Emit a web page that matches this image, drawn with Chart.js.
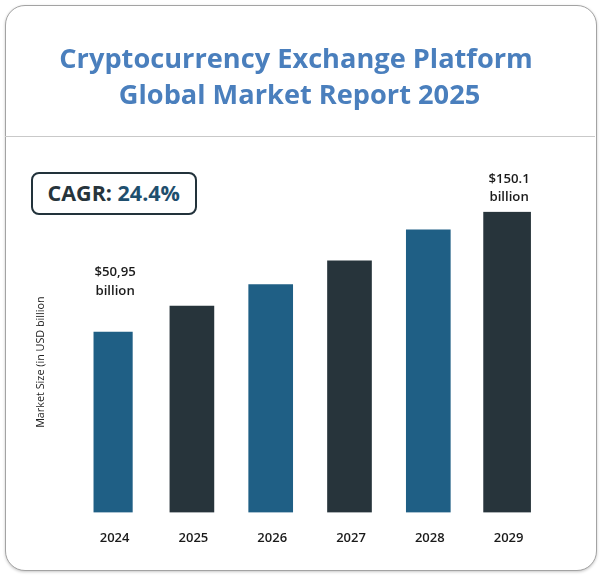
<!DOCTYPE html>
<html><head><meta charset="utf-8">
<script src="https://cdn.jsdelivr.net/npm/chart.js@4/dist/chart.umd.min.js"></script>
<style>
html,body{margin:0;padding:0;background:#fff;width:600px;height:586px;overflow:hidden;font-family:"Open Sans",sans-serif}
#card{position:absolute;left:4.5px;top:4.5px;width:590px;height:564px;border:1px solid #a3a3a3;border-radius:20px;box-shadow:0 1px 3px rgba(0,0,0,.22);background:#fff}
#rule{position:absolute;left:5px;top:136px;width:590px;height:1px;background:#c9c9c9}
#wrap{position:absolute;left:0;top:0;width:600px;height:586px}
#cagr{position:absolute;left:30.5px;top:172px;width:162.5px;height:38.5px;border:2.5px solid #22323b;border-radius:8px;text-align:center;line-height:38px;font-weight:700;font-size:21.5px;color:#27343b;background:#fff;white-space:nowrap}
#cagr span{color:#1f4f6e}
</style></head>
<body>
<div id="card"></div><div id="rule"></div>
<div id="wrap"><canvas id="c" width="600" height="586"></canvas></div>
<div id="cagr">CAGR: <span>24.4%</span></div>
<script>
const titleLines = ['Cryptocurrency Exchange Platform',' Global Market Report 2025'];
const axisTitle = 'Market Size (in USD billion';
const categories = ['2024','2025','2026','2027','2028','2029'];
const values = [50.95,72.35,90.05,109.8,135.3,150.1];
const valueLabels = [['$50,95','billion'],null,null,null,null,['$150.1','billion']];
const labelRise = [59.5,0,0,0,0,33];
const barColors = ['#1f5f85','#27343b','#1f5f85','#27343b','#1f5f85','#27343b'];
const barWidths = [38.5,44,44,44,44,47];
const axisMin = -97.6, axisMax = 150.1;

const labelPlugin = {
  id:'barLabels',
  afterDatasetsDraw(chart){
    const {ctx} = chart;
    ctx.save();
    ctx.font = '600 13.2px "Open Sans"';
    ctx.fillStyle = '#1a1a1a';
    ctx.textAlign = 'center';
    ctx.textBaseline = 'middle';
    chart.data.datasets.forEach((ds,i)=>{
      const lines = valueLabels[i];
      if(!lines) return;
      const el = chart.getDatasetMeta(i).data[i];
      lines.forEach((t,k)=>ctx.fillText(t, el.x + 2, el.y - labelRise[i] + k*18.5));
    });
    ctx.restore();
  }
};

new Chart(document.getElementById('c'),{
  type:'bar',
  plugins:[labelPlugin],
  data:{
    labels:categories,
    datasets:categories.map((c,i)=>({
      label:c,
      data:categories.map((_,j)=>j===i?values[i]:null),
      backgroundColor:barColors[i],
      barThickness:barWidths[i],
      base:axisMin
    }))
  },
  options:{
    responsive:false,animation:false,devicePixelRatio:1,
    layout:{padding:{left:34,right:42,top:0,bottom:30}},
    plugins:{
      legend:{display:false},tooltip:{enabled:false},
      title:{display:true,text:titleLines,color:'#4a7fbd',
        font:{family:'"Open Sans"',size:27.2,weight:'700',lineHeight:1.32},
        padding:{top:42,bottom:98}}
    },
    scales:{
      x:{stacked:true,grid:{display:false},border:{display:false},
        ticks:{color:'#1a1a1a',font:{family:'"Open Sans"',size:13,weight:'600'},padding:10,maxRotation:0,labelOffset:1.5}},
      y:{min:axisMin,max:axisMax,grid:{display:false},border:{display:false},
        ticks:{display:false},
        afterFit(s){s.width=39.7},
        title:{display:true,text:axisTitle,color:'#222',font:{family:'"Open Sans"',size:10.8,weight:'400'},padding:0}},
      yRight:{position:'right',min:axisMin,max:axisMax,grid:{display:false},border:{display:false},
        ticks:{display:false},
        afterFit(s){s.width=11.5}}
    }
  }
});
</script>
</body></html>
